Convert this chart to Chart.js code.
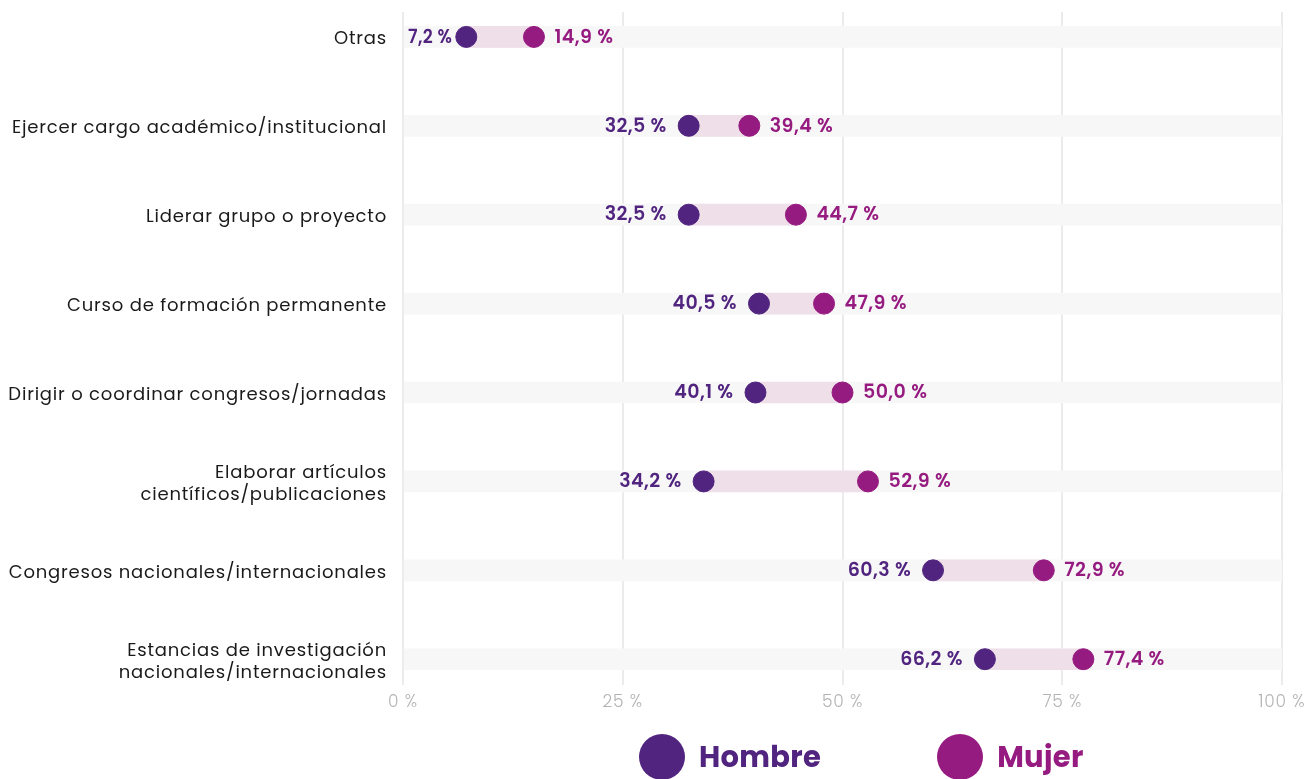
<!DOCTYPE html>
<html>
<head>
<meta charset="utf-8">
<script src="https://cdn.jsdelivr.net/npm/chart.js@4.4.1/dist/chart.umd.min.js"></script>
<style>
  html, body { margin: 0; padding: 0; background: #fff; }
  #wrap { position: relative; width: 1316px; height: 779px; }
  #legend { position: absolute; left: 639px; top: 734px; display: flex; gap: 116px; }
  .item { display: flex; align-items: center; height: 46px; font-family: Poppins, sans-serif; font-weight: 700; font-size: 29px; letter-spacing: 0.3px; }
  .dot { width: 46px; height: 46px; border-radius: 50%; margin-right: 14px; }
</style>
</head>
<body>
<div id="wrap"><canvas id="dumbbell"></canvas><div id="legend"></div></div>
<script>
const categories = [
  "Otras",
  "Ejercer cargo académico/institucional",
  "Liderar grupo o proyecto",
  "Curso de formación permanente",
  "Dirigir o coordinar congresos/jornadas",
  ["Elaborar artículos", "científicos/publicaciones"],
  "Congresos nacionales/internacionales",
  ["Estancias de investigación", "nacionales/internacionales"]
]
const hombre = [7.2, 32.5, 32.5, 40.5, 40.1, 34.2, 60.3, 66.2]
const mujer = [14.9, 39.4, 44.7, 47.9, 50.0, 52.9, 72.9, 77.4]
const xTicks = [0, 25, 50, 75, 100]

const HOMBRE = "#51247f"
const MUJER = "#961b80"
const FONT = "Poppins, sans-serif"

function fmt(v) {
  return v.toFixed(1).replace(".", ",") + " %"
}

// value labels next to each dot
const valueLabels = {
  id: "valueLabels",
  beforeDraw(chart) {
    // the original uses slightly spaced lettering
    chart.ctx.letterSpacing = "0.8px"
  },
  afterDatasetsDraw(chart) {
    const ctx = chart.ctx
    ctx.save()
    ctx.letterSpacing = "0.4px"
    ctx.font = "600 19px " + FONT
    ctx.textBaseline = "middle"
    chart.data.datasets.forEach((ds, di) => {
      if (ds.type !== "scatter") return
      const meta = chart.getDatasetMeta(di)
      meta.data.forEach((pt, i) => {
        const txt = fmt(ds.data[i].x)
        ctx.fillStyle = ds.backgroundColor
        ctx.textAlign = "left"
        if (ds.label === "Hombre") {
          const w = ctx.measureText(txt).width
          const minX = chart.chartArea.left + 5
          if (pt.x - 22 - w < minX) {
            // not enough room near 0: squeeze the label between axis and dot
            ctx.fillText(txt, minX, pt.y + 1, pt.x - 14 - minX)
          } else {
            ctx.fillText(txt, pt.x - 22 - w, pt.y + 1)
          }
        } else {
          ctx.fillText(txt, pt.x + 20.5, pt.y + 1)
        }
      })
    })
    ctx.restore()
  }
}

const chartArea = document.getElementById("dumbbell").getContext("2d")
const myChart = new Chart(chartArea, {
  type: "bar",
  data: {
    datasets: [
      {
        label: "track",
        data: categories.map((c, i) => ({ x: [0, 100], y: i })),
        backgroundColor: "#f7f7f7",
        barThickness: 21,
        grouped: false,
        order: 3
      },
      {
        label: "range",
        data: categories.map((c, i) => ({ x: [hombre[i], mujer[i]], y: i })),
        backgroundColor: "#eedfe9",
        barThickness: 21,
        grouped: false,
        order: 2
      },
      {
        type: "scatter",
        label: "Hombre",
        data: hombre.map((v, i) => ({ x: v, y: i })),
        backgroundColor: HOMBRE,
        borderColor: HOMBRE,
        pointRadius: 10.5,
        pointHoverRadius: 10.5,
        order: 1
      },
      {
        type: "scatter",
        label: "Mujer",
        data: mujer.map((v, i) => ({ x: v, y: i })),
        backgroundColor: MUJER,
        borderColor: MUJER,
        pointRadius: 10.5,
        pointHoverRadius: 10.5,
        order: 0
      }
    ]
  },
  options: {
    indexAxis: "y",
    responsive: true,
    maintainAspectRatio: false,
    animation: false,
    layout: { padding: { top: 12, right: 34, left: 0, bottom: 64 } },
    scales: {
      x: {
        type: "linear",
        min: 0,
        max: 100,
        afterBuildTicks: (axis) => { axis.ticks = xTicks.map(v => ({ value: v })) },
        afterFit: (axis) => { axis.height = 30 },
        grid: { color: "#ebebeb", lineWidth: 2, drawTicks: false },
        border: { display: false },
        ticks: {
          color: "#b3b3b3",
          padding: 8,
          font: { family: FONT, size: 17, weight: "300" },
          callback: (v) => v + " %"
        }
      },
      y: {
        type: "linear",
        reverse: true,
        offset: false,
        min: -0.28,
        max: 7.29,
        afterBuildTicks: (axis) => { axis.ticks = categories.map((c, i) => ({ value: i })) },
        afterFit: (axis) => {
          axis.width = 403
          axis.paddingTop = 0
          axis.paddingBottom = 0
        },
        grid: { display: false, offset: false },
        border: { display: false },
        ticks: {
          color: "#1a1a1a",
          padding: 8,
          labelOffset: 3,
          font: { family: FONT, size: 18, lineHeight: 1.22 },
          callback: (v) => categories[v]
        }
      }
    },
    plugins: {
      tooltip: { enabled: false },
      legend: { display: false }
    }
  },
  plugins: [valueLabels]
})

// legend under the chart, built from the dot datasets
const legendBox = document.getElementById("legend")
myChart.data.datasets.filter(ds => ds.type === "scatter").forEach(ds => {
  const item = document.createElement("div")
  item.className = "item"
  item.style.color = ds.backgroundColor
  const dot = document.createElement("span")
  dot.className = "dot"
  dot.style.background = ds.backgroundColor
  item.appendChild(dot)
  item.appendChild(document.createTextNode(ds.label))
  legendBox.appendChild(item)
})
</script>
</body>
</html>
